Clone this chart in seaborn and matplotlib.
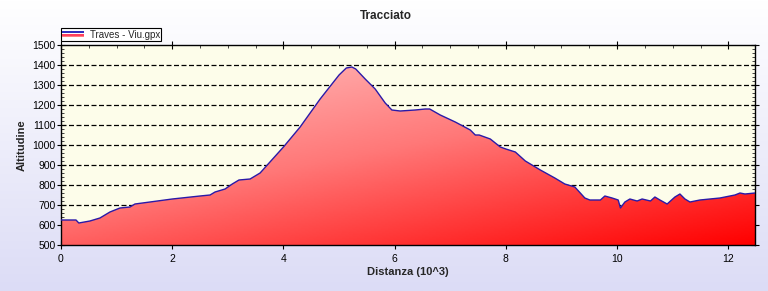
import numpy as np
import pandas as pd
import matplotlib
matplotlib.use("Agg")
import matplotlib.pyplot as plt
import seaborn as sns
from matplotlib.ticker import MultipleLocator
from matplotlib.colors import LinearSegmentedColormap
from matplotlib.patches import Rectangle
from matplotlib.legend_handler import HandlerBase

distance = [0.0, 0.27, 0.32, 0.52, 0.70, 0.88, 1.06, 1.24, 1.33, 1.60, 2.00, 2.50, 2.68,
            2.77, 2.95, 3.08, 3.20, 3.40, 3.58, 4.00, 4.30, 4.66, 5.00, 5.13, 5.23, 5.30,
            5.47, 5.65, 5.83, 5.95, 6.10, 6.37, 6.55, 6.63, 6.82, 7.09, 7.36, 7.45, 7.52,
            7.72, 7.90, 8.00, 8.17, 8.35, 8.62, 8.88, 9.06, 9.24, 9.42, 9.51, 9.70, 9.78,
            9.91, 10.02, 10.06, 10.14, 10.23, 10.36, 10.45, 10.60, 10.68, 10.77, 10.90,
            11.04, 11.13, 11.22, 11.31, 11.49, 11.67, 11.85, 12.12, 12.21, 12.30, 12.48]
altitude = [625, 625, 610, 620, 635, 665, 685, 690, 705, 715, 730, 745, 750,
            765, 780, 805, 825, 830, 860, 990, 1090, 1230, 1350, 1385, 1390, 1380,
            1330, 1280, 1210, 1175, 1170, 1175, 1180, 1180, 1150, 1115, 1075, 1050, 1050,
            1030, 990, 980, 965, 920, 875, 835, 805, 790, 735, 725, 725, 745,
            735, 725, 685, 715, 730, 720, 730, 720, 740, 725, 705,
            740, 755, 730, 715, 725, 730, 735, 750, 760, 755, 760]
series_name = "Traves - Viu.gpx"
title = "Tracciato"
xlabel = "Distanza (10^3)"
ylabel = "Altitudine"

df = pd.DataFrame({"Distanza": distance, "Altitudine": altitude})

sns.set_style("white")
plt.rcParams['font.family'] = ['Liberation Sans', 'DejaVu Sans']

fig = plt.figure(figsize=(7.68, 2.91), dpi=100)

# figure background gradient
bg = fig.add_axes([0, 0, 1, 1], zorder=-10)
grad = np.linspace(0, 1, 256).reshape(-1, 1)
bgcmap = LinearSegmentedColormap.from_list("bg", ["#dcdcf6", "#ffffff"])
bg.imshow(grad, aspect="auto", cmap=bgcmap, origin="lower", extent=[0, 1, 0, 1])
bg.set_axis_off()

ax = fig.add_axes([61/768, 1-245/291, (755-61)/768, 200/291])
ax.set_facecolor("#fdfdea")
xmax = 12.48
ax.set_xlim(0, xmax)
ax.set_ylim(500, 1500)

# gradient fill under curve
fillcmap = LinearSegmentedColormap.from_list("fill", ["#ffcaca", "#ff7878", "#ff0000"])
nx, ny = 300, 120
X, Y = np.meshgrid(np.linspace(0, 1, nx), np.linspace(1, 0, ny))
Z = (X * 0.6 + (1 - Y) * 0.9) / 1.5
im = ax.imshow(Z, extent=[0, xmax, 500, 1500], aspect="auto", cmap=fillcmap,
               origin="upper", zorder=2, interpolation="bilinear")
poly = ax.fill_between(distance, altitude, 500, color="none", lw=0)
path = poly.get_paths()[0]
im.set_clip_path(path, transform=ax.transData)

sns.lineplot(data=df, x="Distanza", y="Altitudine", ax=ax, color="#2a1aa8",
             lw=1.0, zorder=3)

ax.yaxis.set_major_locator(MultipleLocator(100))
ax.yaxis.set_minor_locator(MultipleLocator(20))
ax.xaxis.set_major_locator(MultipleLocator(2))
ax.xaxis.set_minor_locator(MultipleLocator(0.5))
for y in range(600, 1500, 100):
    ax.axhline(y, color="black", lw=0.9, ls=(0, (4, 2)), zorder=1)

ax.tick_params(axis="both", which="major", direction="inout", length=6, width=0.8,
               labelsize=7.5, colors="black", top=True, right=True, left=True, bottom=True)
ax.tick_params(axis="both", which="minor", direction="in", length=2.5, width=0.6,
               top=True, right=True, left=True, bottom=True)
ax.tick_params(axis="y", which="major", pad=1)
for s in ax.spines.values():
    s.set_visible(True)
    s.set_color("black")
    s.set_linewidth(1)

ax.set_xlabel(xlabel, fontsize=8, fontweight="bold", labelpad=2)
ax.set_ylabel(ylabel, fontsize=8, fontweight="bold", labelpad=4)
fig.text(0.502, 0.945, title, ha="center", va="center", fontsize=8.5, fontweight="bold")


class StripeHandler(HandlerBase):
    def create_artists(self, legend, orig_handle, xdescent, ydescent, width, height,
                       fontsize, trans):
        cols = ["#3030c0", "#ffffff", "#ff4060", "#ff8080"]
        h = height * 0.9
        y0 = -ydescent + (height - h) / 2
        arts = []
        for i, c in enumerate(cols):
            r = Rectangle((-xdescent, y0 + h - (i + 1) * h / len(cols)), width,
                          h / len(cols), facecolor=c, edgecolor="none", transform=trans)
            arts.append(r)
        return arts


handle = Rectangle((0, 0), 1, 1)
leg = fig.legend([handle], [series_name], loc="lower left",
                 bbox_to_anchor=(61/768, 1-41/291), fontsize=7, frameon=True,
                 fancybox=False, edgecolor="black", framealpha=1, borderpad=0.15,
                 handlelength=2.2, handletextpad=0.6, borderaxespad=0,
                 handler_map={Rectangle: StripeHandler()})
leg.get_frame().set_linewidth(0.8)

fig.savefig("out.png", dpi=100)
